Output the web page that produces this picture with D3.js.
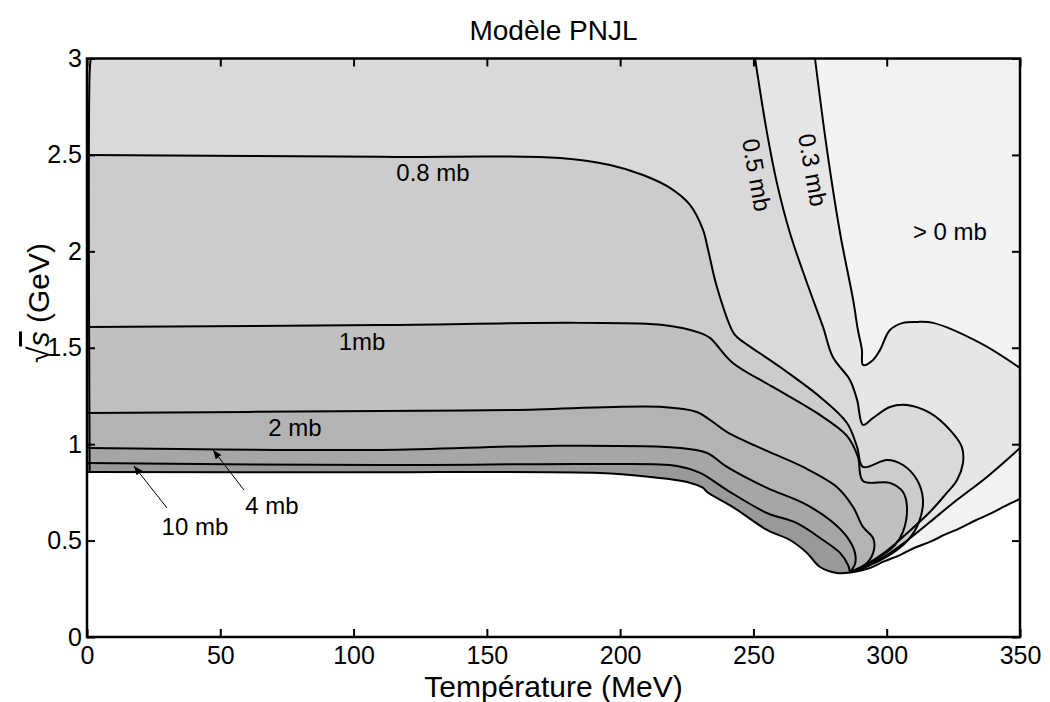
<!DOCTYPE html>
<html><head><meta charset="utf-8">
<script src="https://cdn.jsdelivr.net/npm/d3@7"></script>
<style>
body{margin:0;background:#fff}
text{font-family:"Liberation Sans",Arial,Helvetica,sans-serif;fill:#000}
</style>
</head><body>
<svg id="chart" width="1050" height="702"></svg>
<script>
// ---------- data (T in MeV, sqrt(s) in GeV) ----------
const xTicks = [0, 50, 100, 150, 200, 250, 300, 350];
const yTicks = [0, 0.5, 1, 1.5, 2, 2.5, 3];
const titleText = "Modèle PNJL";
const xLabelText = "Température (MeV)";

// left wall of the sigma>0 domain (runs up along T~0)
const edgeWall = [[1.4,3.0],[1.0,2.93],[1.0,0.856]];
// lower boundary of the sigma>0 domain, left branch (T=0 -> tip)
const edgeLeft = [[0,0.856],[100,0.854],[192.4,0.851],[211.2,0.830],[225.1,0.804],[231.1,0.773],[232.6,0.752],[242.3,0.674],[255.1,0.555],[263.7,0.503],[270.1,0.436],[275.0,0.363],[281.3,0.332],[286.2,0.334]];
// lower boundary, right branch (tip -> T=350)
const edgeRight = [[286.2,0.334],[293.7,0.358],[299.0,0.392],[305.0,0.425],[310.5,0.463],[316.2,0.493],[322.0,0.532],[327.5,0.565],[333.0,0.603],[338.7,0.638],[344.5,0.680],[350,0.716]];

const c03Upper = [[273.1,3.0],[277.6,2.526],[282.5,2.095],[287.4,1.748],[289.2,1.592],[290.7,1.489],[291.1,1.411],[294.9,1.437],[297.5,1.489],[301.2,1.592],[306.1,1.629],[311.4,1.634],[317.4,1.629],[335.0,1.525],[350,1.395]];
const c03Lower = [[350,0.980],[337.6,0.830],[324.9,0.695],[316.2,0.596],[306.9,0.493],[299.4,0.420],[291.9,0.363],[286.2,0.337]];
const c05 = [[250.6,3.0],[255.1,2.614],[258.8,2.355],[263.7,2.095],[270.1,1.836],[276.1,1.608],[279.8,1.452],[286.2,1.333],[288.9,1.229],[291.1,1.100],[294.9,1.136],[301.2,1.193],[307.6,1.203],[316.2,1.162],[323.7,1.074],[328.2,0.985],[328.6,0.902],[326.4,0.814],[321.9,0.737],[316.2,0.648],[306.9,0.529],[299.4,0.441],[291.9,0.373],[286.2,0.337]];
const c08 = [[0,2.500],[109.9,2.490],[177.4,2.484],[196.2,2.448],[208.6,2.396],[218.7,2.329],[226.2,2.241],[231.1,2.111],[233.0,2.007],[236.3,1.815],[242.3,1.582],[243.8,1.556],[260.0,1.400],[275.0,1.245],[285.1,1.110],[288.9,0.985],[291.1,0.882],[300.1,0.918],[306.1,0.892],[311.4,0.814],[313.6,0.711],[312.1,0.596],[308.0,0.503],[300.5,0.420],[293.0,0.368],[286.2,0.337]];
const c1 = [[0,1.608],[109.9,1.618],[184.9,1.629],[216.1,1.618],[230.0,1.577],[233.7,1.551],[242.3,1.421],[257.3,1.297],[273.8,1.162],[285.1,1.043],[289.2,0.934],[291.1,0.809],[301.2,0.799],[306.1,0.752],[307.6,0.674],[306.1,0.545],[303.1,0.477],[297.5,0.415],[291.9,0.363],[286.2,0.337]];
const c2 = [[0,1.162],[109.9,1.172],[159.8,1.177],[216.1,1.193],[228.8,1.167],[233.7,1.126],[240.1,1.063],[255.1,0.965],[268.6,0.882],[281.3,0.778],[287.4,0.674],[291.1,0.571],[294.9,0.513],[295.2,0.451],[292.6,0.384],[286.2,0.337]];
const c4 = [[0,0.980],[109.9,0.970],[172.6,0.991],[222.5,0.980],[232.6,0.954],[240.1,0.882],[255.1,0.773],[268.6,0.695],[278.7,0.607],[285.1,0.519],[288.1,0.436],[288.1,0.379],[286.2,0.337]];
const c10 = [[0,0.902],[109.9,0.892],[192.4,0.897],[221.3,0.887],[230.0,0.851],[240.1,0.762],[255.1,0.643],[266.3,0.591],[276.1,0.503],[282.5,0.436],[285.5,0.373],[286.2,0.337]];

const levelNames = [">0", "0.3", "0.5", "0.8", "1", "2", "4", "10"];
const levelGrays = ["#f2f2f2", "#e6e6e6", "#d9d9d9", "#cccccc", "#c0c0c0", "#b3b3b3", "#a6a6a6", "#999999"];

// annotation texts
const labelTexts = ["0.8 mb", "1mb", "2 mb", "4 mb", "10 mb", "> 0 mb", "0.5 mb", "0.3 mb"];
const labelT     = [129.8, 103.2, 78.0, 69.4, 40.5, 323.7, 251.3, 272.3];
const labelS     = [2.412, 1.535, 1.089, 0.685, 0.576, 2.106, 2.396, 2.422];
const labelRot   = [0, 0, 0, 0, 0, 0, 80, 80];
// arrows: [tailT, tailS, headT, headS]
const arrowData = [[58.9, 0.762, 47.3, 0.970], [30.0, 0.669, 17.6, 0.887]];

// ---------- drawing ----------
const M = {left: 87, right: 1020, top: 58.5, bottom: 637};
const svg = d3.select("#chart");
const x = d3.scaleLinear().domain([0, 350]).range([M.left, M.right]);
const y = d3.scaleLinear().domain([0, 3]).range([M.bottom, M.top]);
const [x0, x1] = x.domain(), [y0, y1] = y.domain();

const defs = svg.append("defs");
defs.append("clipPath").attr("id", "plotclip")
  .append("rect").attr("x", M.left).attr("y", M.top)
  .attr("width", M.right - M.left).attr("height", M.bottom - M.top);
defs.append("marker").attr("id", "ah")
  .attr("viewBox", "0 0 10 10").attr("refX", 10).attr("refY", 5)
  .attr("markerWidth", 9).attr("markerHeight", 9).attr("markerUnits", "userSpaceOnUse")
  .attr("orient", "auto")
  .append("path").attr("d", "M0,1 L10,5 L0,9 Z").attr("fill", "#000");

const line = d3.line().x(d => x(d[0])).y(d => y(d[1])).curve(d3.curveCatmullRom.alpha(0.5));
const seg = pts => line(pts).replace(/^M/, "L");
const pt = p => `${x(p[0])},${y(p[1])}`;
const back = edgeLeft.slice().reverse();

const regionPaths = [
  `M${pt([x0,y1])}L${pt([x1,y1])}` + seg(edgeRight.slice().reverse()) + seg(back) + "Z",
  `M${pt([x0,y1])}` + seg(c03Upper) + seg(c03Lower) + seg(back) + "Z",
  `M${pt([x0,y1])}` + seg(c05) + seg(back) + "Z",
  line(c08) + seg(back) + "Z",
  line(c1) + seg(back) + "Z",
  line(c2) + seg(back) + "Z",
  line(c4) + seg(back) + "Z",
  line(c10) + seg(back) + "Z"
];

const plot = svg.append("g").attr("clip-path", "url(#plotclip)");
plot.selectAll("path.region").data(regionPaths).join("path")
  .attr("class", "region").attr("d", d => d)
  .attr("fill", (d, i) => levelGrays[i]).attr("stroke", "none");

const contours = [edgeWall, edgeLeft, edgeRight, c03Upper, c03Lower, c05, c08, c1, c2, c4, c10];
plot.selectAll("path.contour").data(contours).join("path")
  .attr("class", "contour").attr("d", line)
  .attr("fill", "none").attr("stroke", "#000").attr("stroke-width", 2)
  .attr("stroke-linejoin", "round").attr("stroke-linecap", "round");

// annotations
const ann = svg.append("g");
labelTexts.forEach((t, i) => {
  ann.append("text")
    .attr("transform", `translate(${x(labelT[i])},${y(labelS[i])}) rotate(${labelRot[i]})`)
    .attr("text-anchor", "middle").attr("dy", "0.36em")
    .style("font-size", "24px").text(t);
});
ann.selectAll("line.arrow").data(arrowData).join("line")
  .attr("class", "arrow")
  .attr("x1", d => x(d[0])).attr("y1", d => y(d[1]))
  .attr("x2", d => x(d[2])).attr("y2", d => y(d[3]))
  .attr("stroke", "#000").attr("stroke-width", 1).attr("marker-end", "url(#ah)");

// axes
const fmt = d3.format("~g");
const axB = svg.append("g").attr("transform", `translate(0,${M.bottom})`)
  .call(d3.axisBottom(x).tickValues(xTicks).tickFormat(fmt).tickSizeInner(-8).tickSizeOuter(0).tickPadding(9));
const axT = svg.append("g").attr("transform", `translate(0,${M.top})`)
  .call(d3.axisTop(x).tickValues(xTicks).tickFormat("").tickSizeInner(-8).tickSizeOuter(0));
const axL = svg.append("g").attr("transform", `translate(${M.left},0)`)
  .call(d3.axisLeft(y).tickValues(yTicks).tickFormat(fmt).tickSizeInner(-8).tickSizeOuter(0).tickPadding(5));
const axR = svg.append("g").attr("transform", `translate(${M.right},0)`)
  .call(d3.axisRight(y).tickValues(yTicks).tickFormat("").tickSizeInner(-8).tickSizeOuter(0));
[axB, axT, axL, axR].forEach(a => {
  a.select(".domain").remove();
  a.selectAll(".tick line").attr("stroke", "#000").attr("stroke-width", 2);
  a.selectAll(".tick text").style("font-size", "25px").attr("fill", "#000")
    .style("font-family", '"Liberation Sans",Arial,sans-serif');
});

svg.append("rect").attr("x", M.left).attr("y", M.top)
  .attr("width", M.right - M.left).attr("height", M.bottom - M.top)
  .attr("fill", "none").attr("stroke", "#000").attr("stroke-width", 2.5);

// titles
svg.append("text").attr("x", (M.left + M.right) / 2).attr("y", 40)
  .attr("text-anchor", "middle").style("font-size", "28px").text(titleText);
svg.append("text").attr("x", (M.left + M.right) / 2).attr("y", 697)
  .attr("text-anchor", "middle").style("font-size", "30px").text(xLabelText);
const yl = svg.append("text").attr("transform", `translate(49,303) rotate(-90)`)
  .attr("text-anchor", "middle").style("font-size", "30px");
yl.append("tspan").text("√");
yl.append("tspan").style("font-style", "italic").style("text-decoration", "overline").text("s");
yl.append("tspan").text(" (GeV)");
</script>
</body></html>
